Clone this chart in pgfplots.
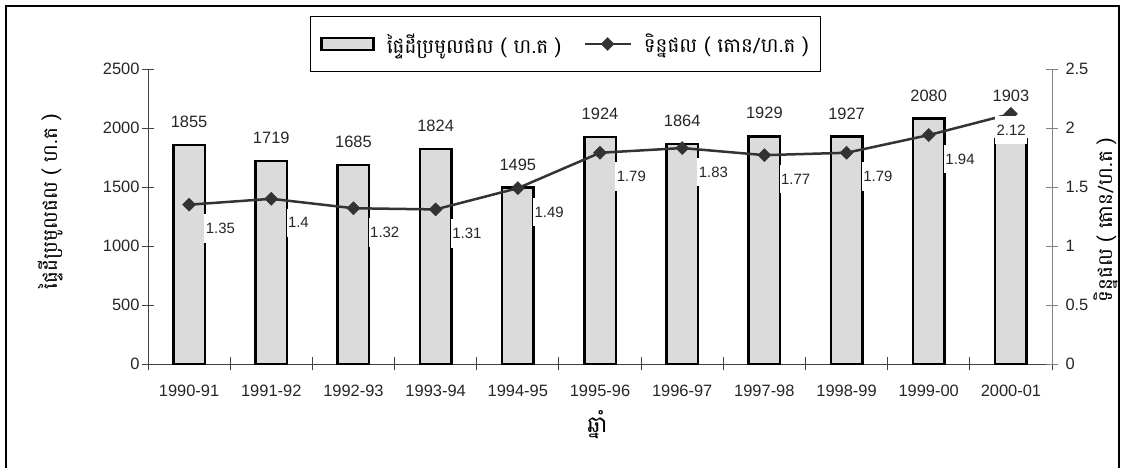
\documentclass[border=0pt]{standalone}
\usepackage{fontspec}
\setmainfont{Liberation Sans}
\newfontfamily\kh[Script=Khmer]{Battambang}
\usepackage{pgfplots}
\pgfplotsset{compat=1.18}
\definecolor{barfill}{gray}{0.86}
\definecolor{lineclr}{gray}{0.2}
\definecolor{axclr}{gray}{0.25}
\definecolor{raxclr}{gray}{0.5}
\pgfplotsset{
  barlegend/.style={legend image code/.code={\draw[##1] (0bp,-6bp) rectangle (52bp,6bp);}},
  linelegend/.style={legend image code/.code={\draw[##1, mark repeat=2, mark phase=2] plot coordinates {(0bp,0bp) (23bp,0bp) (46bp,0bp)};}},
}
\begin{document}
\begin{tikzpicture}
\path[use as bounding box] (0bp,0bp) rectangle (1125bp,468bp);
\draw[line width=2bp] (5.5bp,-20bp) -- (5.5bp,461.5bp) -- (1119bp,461.5bp) -- (1119bp,-20bp);
\begin{axis}[
  at={(148bp,104bp)}, anchor=south west,
  scale only axis, width=904bp, height=295bp,
  xmin=-0.5, xmax=10.5, ymin=0, ymax=2500,
  axis y line*=left, axis x line*=bottom,
  axis line style={axclr, line width=0.9bp},
  every tick/.style={axclr, line width=0.9bp},
  tick align=center,
  major tick length=12bp, minor tick length=13bp,
  xtick={0,...,10},
  xticklabels={1990-91,1991-92,1992-93,1993-94,1994-95,1995-96,1996-97,1997-98,1998-99,1999-00,2000-01},
  major x tick style={draw=none},
  minor xtick={-0.5,0.5,...,10.5},
  ytick={0,500,...,2500},
  tick label style={font=\fontsize{16.5}{18}\selectfont, text=black!85},
  xticklabel style={yshift=-12bp},
  yticklabel style={xshift=1bp},
  /pgf/number format/assume math mode=true,
  /pgf/number format/1000 sep={},
  xlabel={\kh ឆ្នាំ},
  ylabel={\kh ផ្ទៃដីប្រមូលផល ( ហ.ត )},
  label style={font=\fontsize{20}{23}\selectfont},
  xlabel style={at={(axis description cs:0.497,-0.207)}, anchor=center, font=\fontsize{23}{25}\selectfont},
  ylabel style={at={(axis description cs:-0.1084,0.55)}, anchor=center},
  clip=false,
]
\addplot[ybar, bar width=31.5bp, bar shift=0pt, fill=barfill, draw=black, line width=2.5bp,
  nodes near coords,
  every node near coord/.append style={font=\fontsize{16.5}{18}\selectfont, text=black!85, inner sep=0pt, anchor=south, yshift=16bp},
  coordinate style/.condition={x==10}{yshift=21bp},
] coordinates {
(0,1855) (1,1719) (2,1685) (3,1824) (4,1495) (5,1924) (6,1864) (7,1929) (8,1927) (9,2080) (10,1903)
};
\end{axis}
\begin{axis}[
  at={(148bp,104bp)}, anchor=south west,
  scale only axis, width=904bp, height=295bp,
  xmin=-0.5, xmax=10.5, ymin=0, ymax=2.5,
  axis y line*=right, axis x line=none,
  axis line style={raxclr, line width=0.9bp},
  every tick/.style={raxclr, line width=0.9bp},
  tick align=center,
  major tick length=12bp,
  ytick={0,0.5,...,2.5},
  tick label style={font=\fontsize{16.5}{18}\selectfont, text=black!85},
  yticklabel style={xshift=4bp},
  /pgf/number format/assume math mode=true,
  ylabel={\kh ទិន្នផល ( តោន/ហ.ត )},
  label style={font=\fontsize{20}{23}\selectfont},
  ylabel style={at={(axis description cs:1.0597,0.488)}, anchor=center},
  clip=false,
  legend columns=2,
  legend style={at={(axis description cs:0.4618,1.0847)}, anchor=center, draw=black, line width=0.8bp,
    font=\kh\fontsize{20}{22}\selectfont, inner xsep=10bp, inner ysep=15bp,
    /tikz/every even column/.append style={column sep=20bp}},
]
\addlegendimage{fill=barfill, draw=black, line width=2.5bp, barlegend}
\addlegendentry{\hspace{10bp}ផ្ទៃដីប្រមូលផល ( ហ.ត )}
\addplot[color=lineclr, line width=2.5bp, mark=square*, mark size=4.6bp,
  mark options={rotate=45, solid, fill=lineclr, line width=0.5bp},
  linelegend,
  nodes near coords,
  every node near coord/.append style={font=\fontsize{15}{17}\selectfont, text=black!85, fill=white,
     inner xsep=1.5bp, inner ysep=9bp, anchor=west, xshift=15bp, yshift=-24bp},
  coordinate style/.condition={x==10}{xshift=-31bp, yshift=8bp},
] coordinates {
(0,1.35) (1,1.4) (2,1.32) (3,1.31) (4,1.49) (5,1.79) (6,1.83) (7,1.77) (8,1.79) (9,1.94) (10,2.12)
};
\addlegendentry{\hspace{10bp}ទិន្នផល ( តោន/ហ.ត )}
\end{axis}
\end{tikzpicture}
\end{document}
